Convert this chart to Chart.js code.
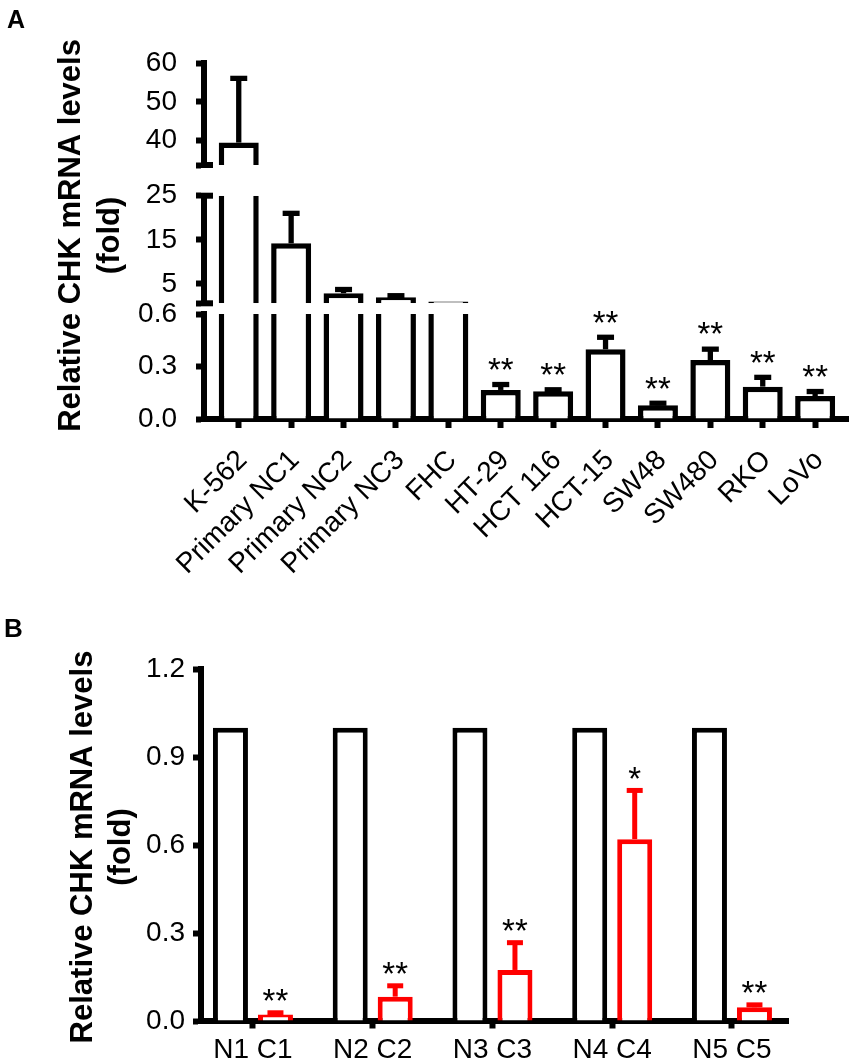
<!DOCTYPE html>
<html>
<head>
<meta charset="utf-8">
<script src="https://cdn.jsdelivr.net/npm/chart.js@4.4.1/dist/chart.umd.min.js"></script>
<style>
  html, body { margin: 0; padding: 0; background: #ffffff; }
  #wrap { position: relative; width: 855px; height: 1064px; overflow: hidden; background: #ffffff; }
  #chartA { position: absolute; left: 0; top: 0; }
  #chartB { position: absolute; left: 0; top: 600px; }
</style>
</head>
<body>
<div id="wrap">
  <canvas id="chartA" width="855" height="640"></canvas>
  <canvas id="chartB" width="855" height="464"></canvas>
</div>
<script>
// ---------------- Panel A data ----------------
const cellLines = ['K-562', 'Primary NC1', 'Primary NC2', 'Primary NC3', 'FHC', 'HT-29', 'HCT 116', 'HCT-15', 'SW48', 'SW480', 'RKO', 'LoVo'];
const cellMeans = [39.5, 14.2, 2.87, 1.96, 1.0, 0.166, 0.158, 0.398, 0.078, 0.337, 0.185, 0.131];
const cellErrors = [16.6, 6.8, 0.86, 0.36, 0, 0.031, 0.009, 0.069, 0.012, 0.062, 0.053, 0.026];
const cellStars = ['', '', '', '', '', '**', '**', '**', '**', '**', '**', '**'];

// broken y axis: value ranges and tick labels of the three segments
const segTopRange = [33.7, 60];
const segTopTicks = [40, 50, 60];
const segMidRange = [0.6, 25];
const segMidTicks = [5, 15, 25];
const segLowRange = [0, 0.6];
const segLowTicks = [0, 0.3, 0.6];

// ---------------- Panel B data ----------------
const pairLabels = ['N1 C1', 'N2 C2', 'N3 C3', 'N4 C4', 'N5 C5'];
const normalMeans = [1, 1, 1, 1, 1];
const cancerMeans = [0.022, 0.083, 0.174, 0.62, 0.047];
const cancerErrors = [0.006, 0.037, 0.093, 0.166, 0.008];
const cancerStars = ['**', '**', '**', '*', '**'];
const panelBRange = [0, 1.2];
const panelBTicks = [0, 0.3, 0.6, 0.9, 1.2];

const yTitleLines = ['Relative CHK mRNA levels', '(fold)'];

// ---------------- helpers / plugins ----------------
const FONT = "'Liberation Sans', Arial, Helvetica, sans-serif";

const decorPlugin = {
  id: 'decor',
  afterDraw(chart, args, opts) {
    const ctx = chart.ctx;
    ctx.save();
    ctx.fillStyle = '#000';
    if (opts.letter) {
      ctx.font = 'bold ' + opts.letter.size + 'px ' + FONT;
      ctx.textAlign = 'left';
      ctx.textBaseline = 'alphabetic';
      ctx.fillText(opts.letter.text, opts.letter.x, opts.letter.y);
    }
    if (opts.title) {
      const t = opts.title;
      const cy = (chart.chartArea.top + chart.chartArea.bottom) / 2 + t.dy;
      ctx.font = 'bold ' + t.size + 'px ' + FONT;
      ctx.textAlign = 'center';
      ctx.textBaseline = 'alphabetic';
      t.lines.forEach((line, k) => {
        ctx.save();
        ctx.translate(t.xs[k], cy);
        ctx.rotate(-Math.PI / 2);
        ctx.fillText(line, 0, 0);
        ctx.restore();
      });
    }
    if (opts.breaks) {
      ctx.strokeStyle = '#000';
      ctx.lineWidth = opts.breaks.width;
      const x0 = chart.chartArea.left;
      opts.breaks.marks.forEach(m => {
        const sc = chart.scales[m.scale];
        const y = m.edge === 'top' ? sc.top : sc.bottom;
        ctx.beginPath();
        ctx.moveTo(x0 - 3, y);
        ctx.lineTo(x0 + opts.breaks.extend, y);
        ctx.stroke();
      });
    }
    ctx.restore();
  }
};

// error bars + significance stars, positioned with the dataset's own scales
const errorPlugin = {
  id: 'errorBars',
  afterDatasetsDraw(chart, args, opts) {
    const ctx = chart.ctx;
    chart.data.datasets.forEach((ds, di) => {
      if (!ds.errors) return;
      const meta = chart.getDatasetMeta(di);
      const ys = meta.yScale;
      const win = ds.errorWindow || [-Infinity, Infinity];
      meta.data.forEach((bar, i) => {
        const v = ds.means[i];
        const e = ds.errors[i];
        const t = v + e;
        if (!(t > win[0] && t <= win[1])) return;
        const x = bar.x;
        const yv = ys.getPixelForValue(v);
        const ye = ys.getPixelForValue(t);
        ctx.save();
        ctx.strokeStyle = ds.borderColor;
        ctx.lineWidth = opts.lineWidth;
        ctx.lineCap = 'butt';
        if (e > 0) {
          ctx.beginPath();
          ctx.moveTo(x, yv);
          ctx.lineTo(x, ye);
          ctx.stroke();
          ctx.beginPath();
          ctx.moveTo(x - opts.capWidth / 2, ye);
          ctx.lineTo(x + opts.capWidth / 2, ye);
          ctx.stroke();
        }
        const s = ds.stars ? ds.stars[i] : '';
        if (s) {
          ctx.fillStyle = '#000';
          ctx.font = opts.starSize + 'px ' + FONT;
          ctx.textAlign = 'center';
          ctx.textBaseline = 'alphabetic';
          ctx.fillText(s, x, ye - opts.starGap + 0.57 * opts.starSize);
        }
        ctx.restore();
      });
    });
  }
};

const tickFont = { family: FONT, size: 28 };
const BW_A = 5.5;

function segAxis(range, tickVals, stackWeight, order, decimals) {
  const all = Array.from(new Set([range[0]].concat(tickVals)));
  return {
    type: 'linear', axis: 'y', position: 'left',
    stack: 'brokenY', stackWeight: stackWeight, weight: order,
    min: range[0], max: range[1],
    afterFit: s => { s.width = 204; },
    afterBuildTicks: s => { s.ticks = all.map(v => ({ value: v })); },
    ticks: {
      autoSkip: false, padding: 19, color: '#000', font: tickFont,
      callback: v => tickVals.includes(v) ? v.toFixed(decimals) : ''
    },
    grid: { display: true, drawOnChartArea: false, drawTicks: true, tickLength: 8, tickWidth: 6, tickColor: '#000', color: '#000' },
    border: { display: true, width: 6, color: '#000' }
  };
}

function gapAxis(stackWeight, order) {
  return {
    type: 'linear', axis: 'y', position: 'left',
    stack: 'brokenY', stackWeight: stackWeight, weight: order,
    min: 0, max: 1,
    afterFit: s => { s.width = 204; },
    ticks: { display: false },
    grid: { display: false },
    border: { display: false }
  };
}

// one dataset per axis segment: each bar is the part of the value inside that segment
function segDataset(axisId, range, errorWindow) {
  return {
    data: cellMeans.map((v, i) => ({ x: i, y: v > range[0] ? [range[0], Math.min(v, range[1])] : null })),
    means: cellMeans,
    errors: cellErrors,
    stars: cellStars,
    errorWindow: errorWindow,
    xAxisID: 'x',
    yAxisID: axisId,
    backgroundColor: '#ffffff',
    borderColor: '#000000',
    borderWidth: c => ({ left: BW_A, right: BW_A, bottom: 0, top: cellMeans[c.dataIndex] > range[1] ? 0 : BW_A }),
    borderSkipped: false,
    barThickness: 40,
    grouped: false,
    clip: 0,
    inflateAmount: 0
  };
}

// ---------------- Panel A chart ----------------
new Chart(document.getElementById('chartA'), {
  type: 'bar',
  data: {
    datasets: [
      segDataset('yTop', segTopRange, [segMidRange[1], Infinity]),
      segDataset('yMid', segMidRange, [segLowRange[1], segMidRange[1]]),
      segDataset('yLow', segLowRange, [-Infinity, segLowRange[1]])
    ]
  },
  options: {
    responsive: false,
    animation: false,
    events: [],
    layout: { padding: { top: 63.3, left: 0, right: 2, bottom: 0 } },
    plugins: {
      legend: { display: false },
      tooltip: { enabled: false },
      decor: {
        letter: { text: 'A', x: 7, y: 28, size: 25 },
        title: { lines: yTitleLines, xs: [79.5, 119], dy: -5.7, size: 31 },
        breaks: { width: 6, extend: 9, marks: [
          { scale: 'yTop', edge: 'bottom' },
          { scale: 'yMid', edge: 'top' },
          { scale: 'yMid', edge: 'bottom' }
        ] }
      },
      errorBars: { lineWidth: 5.3, capWidth: 17, starSize: 33, starGap: 22.5 }
    },
    scales: {
      x: {
        type: 'linear', position: 'bottom', offset: false,
        min: -0.663, max: 11.64,
        afterBuildTicks: s => { s.ticks = cellLines.map((_, i) => ({ value: i })); },
        afterFit: s => { s.height = 221; },
        ticks: {
          autoSkip: false, minRotation: 45, maxRotation: 45, padding: 16, labelOffset: 4,
          color: '#000', font: tickFont,
          callback: v => cellLines[v]
        },
        grid: { display: true, offset: false, drawOnChartArea: false, drawTicks: true, tickLength: 9, tickWidth: 6, tickColor: '#000', color: '#000' },
        border: { display: true, width: 6, color: '#000' }
      },
      yTop: segAxis(segTopRange, segTopTicks, 101.7, 5, 0),
      yGap1: gapAxis(30.7, 4),
      yMid: segAxis(segMidRange, segMidTicks, 107.6, 3, 0),
      yGap2: gapAxis(10.7, 2),
      yLow: segAxis(segLowRange, segLowTicks, 105, 1, 1)
    }
  },
  plugins: [decorPlugin, errorPlugin]
});

// ---------------- Panel B chart ----------------
const barStyleB = {
  backgroundColor: '#ffffff',
  borderWidth: 5,
  borderSkipped: 'start',
  categoryPercentage: 0.7516,
  barPercentage: 0.778,
  inflateAmount: 0
};

new Chart(document.getElementById('chartB'), {
  type: 'bar',
  data: {
    datasets: [
      Object.assign({ data: normalMeans.map((v, i) => ({ x: i, y: v })), borderColor: '#000000' }, barStyleB),
      Object.assign({ data: cancerMeans.map((v, i) => ({ x: i, y: v })), means: cancerMeans, errors: cancerErrors, stars: cancerStars, borderColor: '#ff0000' }, barStyleB)
    ]
  },
  options: {
    responsive: false,
    animation: false,
    events: [],
    layout: { padding: { top: 69, left: 0, right: 67, bottom: 0 } },
    plugins: {
      legend: { display: false },
      tooltip: { enabled: false },
      decor: {
        letter: { text: 'B', x: 4, y: 37, size: 26 },
        title: { lines: yTitleLines, xs: [91.5, 129.5], dy: 2, size: 31 }
      },
      errorBars: { lineWidth: 5, capWidth: 16, starSize: 33, starGap: 19.5 }
    },
    scales: {
      x: {
        type: 'linear', position: 'bottom', offset: false,
        min: -0.438, max: 4.468,
        afterBuildTicks: s => { s.ticks = pairLabels.map((_, i) => ({ value: i })); },
        afterFit: s => { s.height = 43; },
        ticks: {
          autoSkip: false, minRotation: 0, maxRotation: 0, padding: 5,
          color: '#000', font: tickFont,
          callback: v => pairLabels[v]
        },
        grid: { display: true, offset: false, drawOnChartArea: false, drawTicks: true, tickLength: 7.5, tickWidth: 6, tickColor: '#000', color: '#000' },
        border: { display: true, width: 6, color: '#000' }
      },
      y: {
        type: 'linear', position: 'left',
        min: panelBRange[0], max: panelBRange[1],
        afterFit: s => { s.width = 200.5; },
        afterBuildTicks: s => { s.ticks = panelBTicks.map(v => ({ value: v })); },
        ticks: {
          autoSkip: false, padding: 8, color: '#000', font: tickFont,
          callback: v => v.toFixed(1)
        },
        grid: { display: true, drawOnChartArea: false, drawTicks: true, tickLength: 7.5, tickWidth: 6, tickColor: '#000', color: '#000' },
        border: { display: true, width: 6, color: '#000' }
      }
    }
  },
  plugins: [decorPlugin, errorPlugin]
});
</script>
</body>
</html>
